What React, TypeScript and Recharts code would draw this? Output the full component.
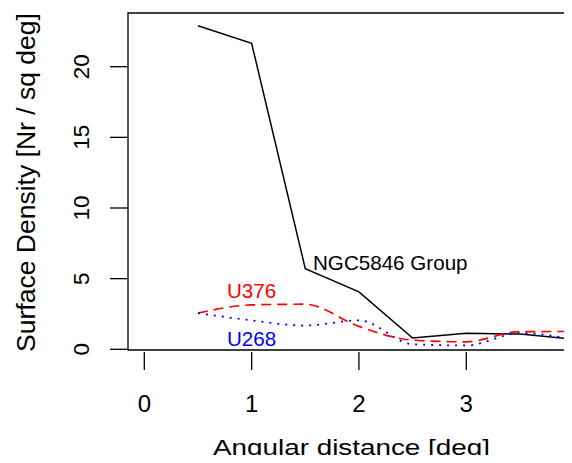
import React from 'react';
import { LineChart, Line, XAxis, YAxis, ReferenceArea, ReferenceDot } from 'recharts';

const distances = [0.5, 1, 1.5, 2, 2.5, 3, 3.5, 4];
const ngc5846 = [22.9, 21.65, 5.7, 4.06, 0.8, 1.13, 1.08, 0.72];
const u376 = [2.56, 3.14, 3.19, 1.62, 0.65, 0.53, 1.25, 1.26];
const u268 = [2.56, 2.05, 1.68, 2.05, 0.36, 0.27, 1.15, 0.7];

const xTicks = [0, 1, 2, 3];
const yTicks = [0, 5, 10, 15, 20];

const X_DOMAIN: [number, number] = [-0.152, 3.948];
const Y_DOMAIN: [number, number] = [-0.05, 23.8];

const FONT = '"Liberation Sans", Arial, Helvetica, sans-serif';

const data = distances.map((d, i) => ({
  dist: d,
  ngc: ngc5846[i],
  u376: u376[i],
  u268: u268[i],
}));

function XTick({ x, y, payload }: any) {
  return (
    <g>
      <line x1={x} x2={x} y1={y + 2} y2={y + 20} stroke="#000" strokeWidth={1.3} />
      <text x={x} y={y + 62} textAnchor="middle" fontSize={24} fontFamily={FONT} fill="#000">
        {payload.value}
      </text>
    </g>
  );
}

function YTick({ x, y, payload }: any) {
  return (
    <g>
      <line x1={x - 18} x2={x} y1={y} y2={y} stroke="#000" strokeWidth={1.3} />
      <text
        transform={`translate(${x - 39.5},${y}) rotate(-90)`}
        textAnchor="middle"
        fontSize={22.5}
        fontFamily={FONT}
        fill="#000"
      >
        {payload.value}
      </text>
    </g>
  );
}

function note(text: string, color: string, anchor: 'start' | 'middle') {
  return (props: any) => (
    <text x={props.cx} y={props.cy} textAnchor={anchor} fontSize={20.6} fontFamily={FONT} fill={color}>
      {text}
    </text>
  );
}

export default function App() {
  return (
    <div style={{ margin: -8, width: 572, height: 463, background: '#fff' }}>
      <LineChart
        width={572}
        height={463}
        data={data}
        margin={{ top: 13, right: 4, left: 0, bottom: 0 }}
      >
        <XAxis
          dataKey="dist"
          type="number"
          domain={X_DOMAIN}
          ticks={xTicks}
          allowDataOverflow
          axisLine={false}
          tickLine={false}
          tickSize={0}
          tickMargin={0}
          height={113}
          tick={<XTick />}
          label={({ viewBox }: any) => (
            <text
              x={viewBox.x + 85}
              y={viewBox.y + 105}
              textAnchor="start"
              fontSize={22.5}
              fontFamily={FONT}
              fill="#000"
              textLength={277}
              lengthAdjust="spacingAndGlyphs"
            >
              Angular distance [deg]
            </text>
          )}
        />
        <YAxis
          type="number"
          domain={Y_DOMAIN}
          ticks={yTicks}
          allowDataOverflow
          axisLine={false}
          tickLine={false}
          tickSize={0}
          tickMargin={0}
          width={128}
          tick={<YTick />}
          label={({ viewBox }: any) => (
            <text
              transform={`translate(35,${viewBox.y + viewBox.height / 2 + 1}) rotate(-90)`}
              textAnchor="middle"
              fontSize={26.5}
              fontFamily={FONT}
              fill="#000"
            >
              Surface Density [Nr / sq deg]
            </text>
          )}
        />
        <ReferenceArea
          x1={X_DOMAIN[0]}
          x2={X_DOMAIN[1]}
          y1={Y_DOMAIN[0]}
          y2={Y_DOMAIN[1]}
          fill="none"
          stroke="#000"
          strokeWidth={1.3}
          fillOpacity={0}
        />
        <Line
          dataKey="ngc"
          type="linear"
          stroke="#000"
          strokeWidth={1.5}
          dot={false}
          activeDot={false}
          isAnimationActive={false}
        />
        <Line
          dataKey="u376"
          type="monotone"
          stroke="#ff0000"
          strokeWidth={1.7}
          strokeDasharray="10 6"
          dot={false}
          activeDot={false}
          isAnimationActive={false}
        />
        <Line
          dataKey="u268"
          type="monotone"
          stroke="#0000ff"
          strokeWidth={1.8}
          strokeDasharray="2 6"
          dot={false}
          activeDot={false}
          isAnimationActive={false}
        />
        <ReferenceDot x={1.572} y={5.58} r={0} shape={note('NGC5846 Group', '#000', 'start')} />
        <ReferenceDot x={1.0} y={3.63} r={0} shape={note('U376', '#ff0000', 'middle')} />
        <ReferenceDot x={1.0} y={0.23} r={0} shape={note('U268', '#0000ff', 'middle')} />
      </LineChart>
    </div>
  );
}
